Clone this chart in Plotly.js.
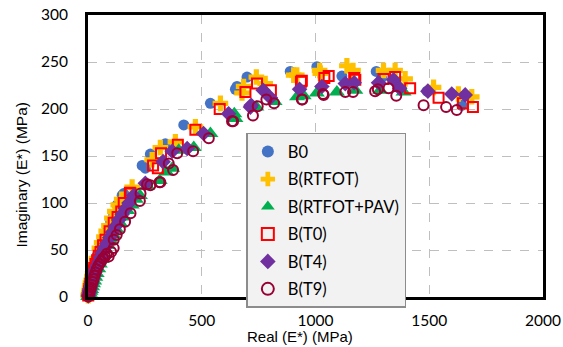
<!DOCTYPE html>
<html><head><meta charset="utf-8">
<script src="https://cdn.plot.ly/plotly-3.0.1.min.js"></script>
<style>body{margin:0;background:#fff}#c{width:563px;height:347px}</style>
</head><body><div id="c"></div>
<script>
const seriesNames = ["B0","B(RTFOT)","B(RTFOT+PAV)","B(T0)","B(T4)","B(T9)"];

const b0_x = [1,2,4,5,7,9,11,14,17,20,26,33,40,47,57,67,77,87,100,113,128,150,157,238,252,274,340,421,538,648,655,699,889,1006,1116,1267,1290,1490,1643];
const b0_y = [1.5,3,5,7,9.5,12,15,18,22,25,32,39,44,48,55,61,67,72,80,87,98,108,110,140,137,152,163,183,206,221,224,234,240,245,235,240,233,219,204];

const rt_x = [1,2,4,5,7,9,11,14,17,20,28,37,50,60,70,80,92,105,118,133,148,194,282,318,384,472,582,677,684,740,779,904,918,1018,1021,1138,1165,1299,1350,1394,1519,1628,1687];
const rt_y = [1.5,3,5,7,9.5,12,15,18,22,25,33,41,52,58,64,70,76,84,91,98,104,117,146,159,165,181,206,217,224,234,227,236,236,241,238,246,241,241,241,232,223,216,213];

const pav_x = [1,3,6,8,11,14,18,22,27,32,38,45,52,60,68,78,88,100,112,125,140,155,172,192,210,228,260,315,345,370,399,465,538,643,648,740,820,919,948,1006,1094,1175,1284,1387];
const pav_y = [0.5,1,2.5,4,6,8,11,14,17,21,25,30,35,40,45,50,55,60,66,72,79,85,92,98,104,108,118,124,133,137,156,159,174,195,190,202,208,213,214,217,218,220,220,218];

const t0_x = [1,2,4,6,8,10,13,16,19,23,27,33,40,47,55,66,77,95,113,130,146,157,184,187,286,307,321,395,472,579,692,743,804,936,940,1039,1058,1170,1175,1299,1350,1416,1541,1648,1692];
const t0_y = [1.5,3,6,8.5,11,14,17,20,24,28,31,35,39,44,48,55,61,70,79,85,91,100,111,110,140,137,153,162,178,200,218,227,220,229,230,233,235,233,231,232,234,222,212,206,202];

const t4_x = [1,2,4,5,7,9,12,15,18,22,26,30,35,40,47,55,63,72,83,95,107,120,135,150,165,180,201,252,330,370,436,508,618,714,717,770,802,930,1028,1131,1170,1277,1343,1370,1494,1599,1658];
const t4_y = [1,2,4,5,7,9,11.5,14,17,20,23,26,29.5,33,37,42,47,52,57,63,69,75,82,88,94,100,108,121,144,155,158,174,195,202,204,220,212,221,224,227,228,228,231,222,219,216,215];

const t9_x = [1,2,3,5,7,10,13,16,20,24,28,33,38,45,51,58,66,75,83,91,102,113,113,126,140,163,187,228,231,260,274,314,318,355,374,392,462,531,633,638,725,746,784,818,940,942,1033,1036,1131,1165,1262,1274,1321,1355,1475,1574,1621];
const t9_y = [0.5,1,2.5,4,6,8,10.5,13,16,19,22.5,26,29.5,33,35.5,38,41,43,46,43,48,52,61,66,72,80,89,102,110,120,119,122,122,142,135,153,155,169,187,187,193,203,210,206,210,210,216,215,218,218,219,221,222,214,204,202,199];

const xTicks = [0,500,1000,1500,2000];
const yTicks = [0,50,100,150,200,250,300];

const FONT = "Lato, 'Open Sans', sans-serif";
const TFONT = "'Liberation Sans', Arial, sans-serif";
const mk = (name, x, y, marker, g) => ({type:"scatter", mode:"markers", name, x, y, marker, legendgroup:g, cliponaxis:false});

const traces = [
  mk(seriesNames[0], b0_x, b0_y, {symbol:"circle", size:11, color:"#4472C4"}, "a"),
  mk(seriesNames[1], rt_x, rt_y, {symbol:"cross", size:13, color:"#FFC000"}, "b"),
  mk(seriesNames[2], pav_x, pav_y, {symbol:"triangle-up", size:14, color:"#00B050"}, "c"),
  mk(seriesNames[3], t0_x, t0_y, {symbol:"square-open", size:10, color:"#FF0000", line:{width:2, color:"#FF0000"}}, "d"),
  mk(seriesNames[4], t4_x, t4_y, {symbol:"diamond", size:12, color:"#7030A0"}, "e"),
  mk(seriesNames[5], t9_x, t9_y, {symbol:"circle-open", size:10, color:"#990033", line:{width:2, color:"#990033"}}, "f")
];

const axisCommon = {
  showline:true, mirror:true, linecolor:"#000", linewidth:3,
  showgrid:true, gridcolor:"#BFBFBF", griddash:"dash", gridwidth:1,
  zeroline:false, ticks:"", tickfont:{family:FONT, size:15.5, color:"#000"}
};

const layout = {
  width:563, height:347,
  margin:{l:87.5, r:20, t:15, b:50},
  paper_bgcolor:"#fff", plot_bgcolor:"#fff",
  font:{family:FONT, color:"#000"},
  showlegend:true,
  xaxis:Object.assign({}, axisCommon, {range:[0,2000], tickvals:xTicks, ticktext:xTicks.map(String), ticklabelstandoff:7}),
  yaxis:Object.assign({}, axisCommon, {range:[0,300], tickvals:yTicks, ticktext:yTicks.map(String), ticklabelstandoff:14}),
  legend:{x:0.348, y:0.582, xanchor:"left", yanchor:"top", bgcolor:"#F2F2F2", bordercolor:"#8C8C8C", borderwidth:1.5,
          font:{family:FONT, size:16.5, color:"#000"}, traceorder:"grouped", tracegroupgap:3, itemsizing:"constant"},
  annotations:[
    {text:"Real (E*) (MPa)", xref:"paper", yref:"paper", x:(300-87.5)/455.5, y:-(336-297)/282, xanchor:"center", yanchor:"middle", showarrow:false, font:{family:TFONT, size:15, color:"#000"}},
    {text:"Imaginary (E*) (MPa)", xref:"paper", yref:"paper", x:-(87.5-21)/455.5, y:(297-175)/282, xanchor:"center", yanchor:"middle", textangle:-90, showarrow:false, font:{family:TFONT, size:15.5, color:"#000"}}
  ]
};

Plotly.newPlot("c", traces, layout, {displayModeBar:false, staticPlot:true});
</script></body></html>
